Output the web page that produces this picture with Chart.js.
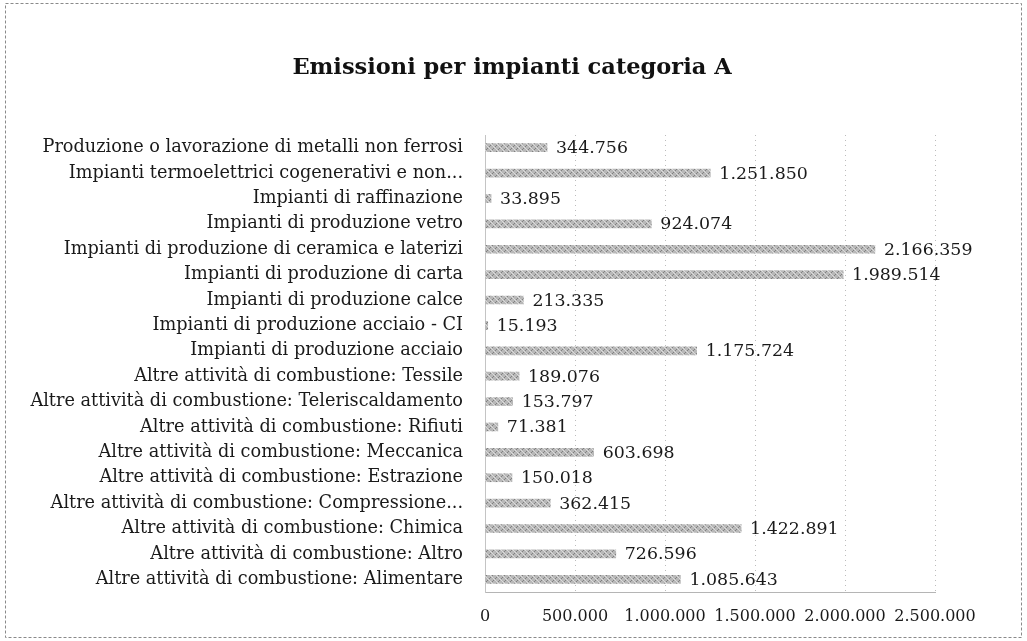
<!DOCTYPE html>
<html>
<head>
<meta charset="utf-8">
<script src="https://cdn.jsdelivr.net/npm/chart.js@4/dist/chart.umd.min.js"></script>
<style>
html,body{margin:0;padding:0;background:#fff;}
#wrap{width:1027px;height:641px;position:relative;}
</style>
</head>
<body>
<div id="wrap"><canvas id="c" width="1027" height="641"></canvas></div>
<script>
const categories = [
  "Produzione o lavorazione di metalli non ferrosi",
  "Impianti termoelettrici cogenerativi e non...",
  "Impianti di raffinazione",
  "Impianti di produzione vetro",
  "Impianti di produzione di ceramica e laterizi",
  "Impianti di produzione di carta",
  "Impianti di produzione calce",
  "Impianti di produzione acciaio - CI",
  "Impianti di produzione acciaio",
  "Altre attività di combustione: Tessile",
  "Altre attività di combustione: Teleriscaldamento",
  "Altre attività di combustione: Rifiuti",
  "Altre attività di combustione: Meccanica",
  "Altre attività di combustione: Estrazione",
  "Altre attività di combustione: Compressione...",
  "Altre attività di combustione: Chimica",
  "Altre attività di combustione: Altro",
  "Altre attività di combustione: Alimentare"
];
const emissions = [
  344756, 1251850, 33895, 924074, 2166359, 1989514, 213335, 15193, 1175724,
  189076, 153797, 71381, 603698, 150018, 362415, 1422891, 726596, 1085643
];
const tickValues = [0, 500000, 1000000, 1500000, 2000000, 2500000];
const chartTitle = "Emissioni per impianti categoria A";

function fmt(v){
  return String(Math.round(v)).replace(/\B(?=(\d{3})+(?!\d))/g, ".");
}

const FONT = "'DejaVu Serif', 'Liberation Serif', serif";

// textured grey fill like the scanned bars
function makePattern(){
  const p = document.createElement('canvas');
  p.width = 6; p.height = 6;
  const g = p.getContext('2d');
  g.fillStyle = '#b8b8b8';
  g.fillRect(0,0,6,6);
  g.fillStyle = '#808080';
  for (let i = 0; i < 6; i++) {
    g.fillRect(i, (5 - i) % 6, 1, 1);
  }
  g.fillStyle = '#dcdcdc';
  for (let i = 0; i < 6; i++) g.fillRect(i, (i + 1) % 6, 1, 1);
  return g.createPattern(p, 'repeat');
}
const barFill = makePattern();

const valueLabels = {
  id: 'valueLabels',
  afterDatasetsDraw(chart){
    const ctx = chart.ctx;
    const meta = chart.getDatasetMeta(0);
    ctx.save();
    ctx.font = "17.4px " + FONT;
    ctx.fillStyle = "#1a1a1a";
    ctx.textAlign = "left";
    ctx.textBaseline = "middle";
    meta.data.forEach((bar, i) => {
      ctx.fillText(fmt(emissions[i]), bar.x + 9, bar.y + 1);
    });
    ctx.restore();
  }
};

const titleAndFrame = {
  id: 'titleAndFrame',
  afterDraw(chart){
    const ctx = chart.ctx;
    ctx.save();
    ctx.font = "bold 22.5px " + FONT;
    ctx.fillStyle = "#111";
    ctx.textAlign = "center";
    ctx.textBaseline = "middle";
    ctx.fillText(chartTitle, 512, 68);
    ctx.strokeStyle = "#8a8a8a";
    ctx.lineWidth = 1;
    ctx.setLineDash([3,2]);
    ctx.strokeRect(5.5, 3.5, 1016, 634);
    ctx.restore();
  }
};

new Chart(document.getElementById('c'), {
  type: 'bar',
  data: {
    labels: categories,
    datasets: [{
      data: emissions,
      backgroundColor: barFill,
      borderWidth: 0,
      barThickness: 8
    }]
  },
  options: {
    indexAxis: 'y',
    responsive: false,
    animation: false,
    layout: { padding: { left: 0, right: 92, top: 135, bottom: 0 } },
    plugins: {
      legend: { display: false },
      tooltip: { enabled: false },
      title: { display: false }
    },
    scales: {
      x: {
        min: 0,
        max: 2500000,
        afterBuildTicks(scale){ scale.ticks = tickValues.map(v => ({ value: v })); },
        afterFit(scale){ scale.height = 49; },
        grid: { color: '#bcbcbc', drawTicks: false, lineWidth: 1 },
        border: { display: true, color: '#b5b5b5', dash: [1,4] },
        ticks: {
          padding: 15,
          color: '#1a1a1a',
          font: { family: FONT, size: 16 },
          maxRotation: 0,
          autoSkip: false,
          callback: v => fmt(v)
        }
      },
      y: {
        afterFit(scale){ scale.width = 485; },
        grid: { display: false, drawTicks: false },
        border: { display: true, color: '#c4c4c4', dash: [1,6] },
        ticks: {
          padding: 22,
          color: '#1a1a1a',
          font: { family: FONT, size: 17.7 },
          autoSkip: false
        }
      }
    }
  },
  plugins: [valueLabels, titleAndFrame]
});
</script>
</body>
</html>
